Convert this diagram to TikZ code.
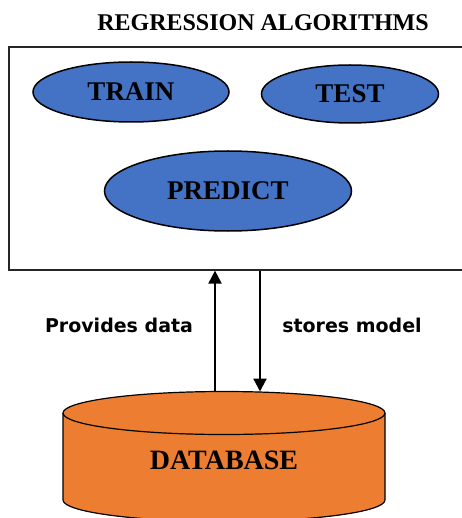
\documentclass[tikz,border=0pt]{standalone}
\usepackage{fontspec}
\setmainfont{Liberation Serif}
\newfontfamily\labelfont{DejaVu Sans}
\usetikzlibrary{positioning, arrows.meta, shapes.geometric}
\definecolor{algblue}{HTML}{4472C4}
\definecolor{dborange}{HTML}{ED7D31}

\begin{document}
\begin{tikzpicture}[x=1pt,y=-1pt,>={Triangle[length=13pt,width=13pt]},semithick]
\tikzstyle{algo}=[ellipse,draw=black,fill=algblue,line width=1.5pt,inner sep=0pt,font=\fontsize{27}{27}\selectfont\bfseries]
\tikzstyle{flow}=[->,line width=2.2pt]
\tikzstyle{note}=[font=\labelfont\fontsize{19}{19}\selectfont\bfseries]
\useasboundingbox (0,0) rectangle (461,518);

\node[font=\fontsize{24}{24}\selectfont\bfseries] (T) at (263,22.5) {REGRESSION ALGORITHMS};
\node[draw=black!85,line width=1.3pt,minimum width=454pt,minimum height=223pt] (R) at (236,158.5) {};

\node[algo,minimum width=196pt,minimum height=60pt] (TR) at (131,92) {TRAIN};
\node[algo,minimum width=177pt,minimum height=58pt] (TE) at (350,94) {TEST};
\node[algo,minimum width=247pt,minimum height=80pt] (P) at (228,191) {PREDICT};

% database
\fill[dborange] (63,413) -- (63,500) arc[start angle=180,end angle=0,x radius=161,y radius=21.5] -- (385,413) -- cycle;
\draw[line width=1.2pt] (63,413) -- (63,500) arc[start angle=180,end angle=0,x radius=161,y radius=21.5] -- (385,413);
\draw[line width=1.2pt,fill=dborange] (224,413) ellipse[x radius=161,y radius=21.5];
\coordinate (C) at (224,391.5);
\node[font=\fontsize{28}{28}\selectfont\bfseries] (D) at (224,460) {DATABASE};

\draw[flow] ([xshift=-9pt]C) -- ([xshift=-9pt]C |- R.south);
\draw[flow] ([xshift=36pt]C |- R.south) -- ([xshift=36pt]C);

\node[note] (PD) at (119,325.5) {Provides data};
\node[note] (SM) at (352,325.5) {stores model};
\end{tikzpicture}
\end{document}
